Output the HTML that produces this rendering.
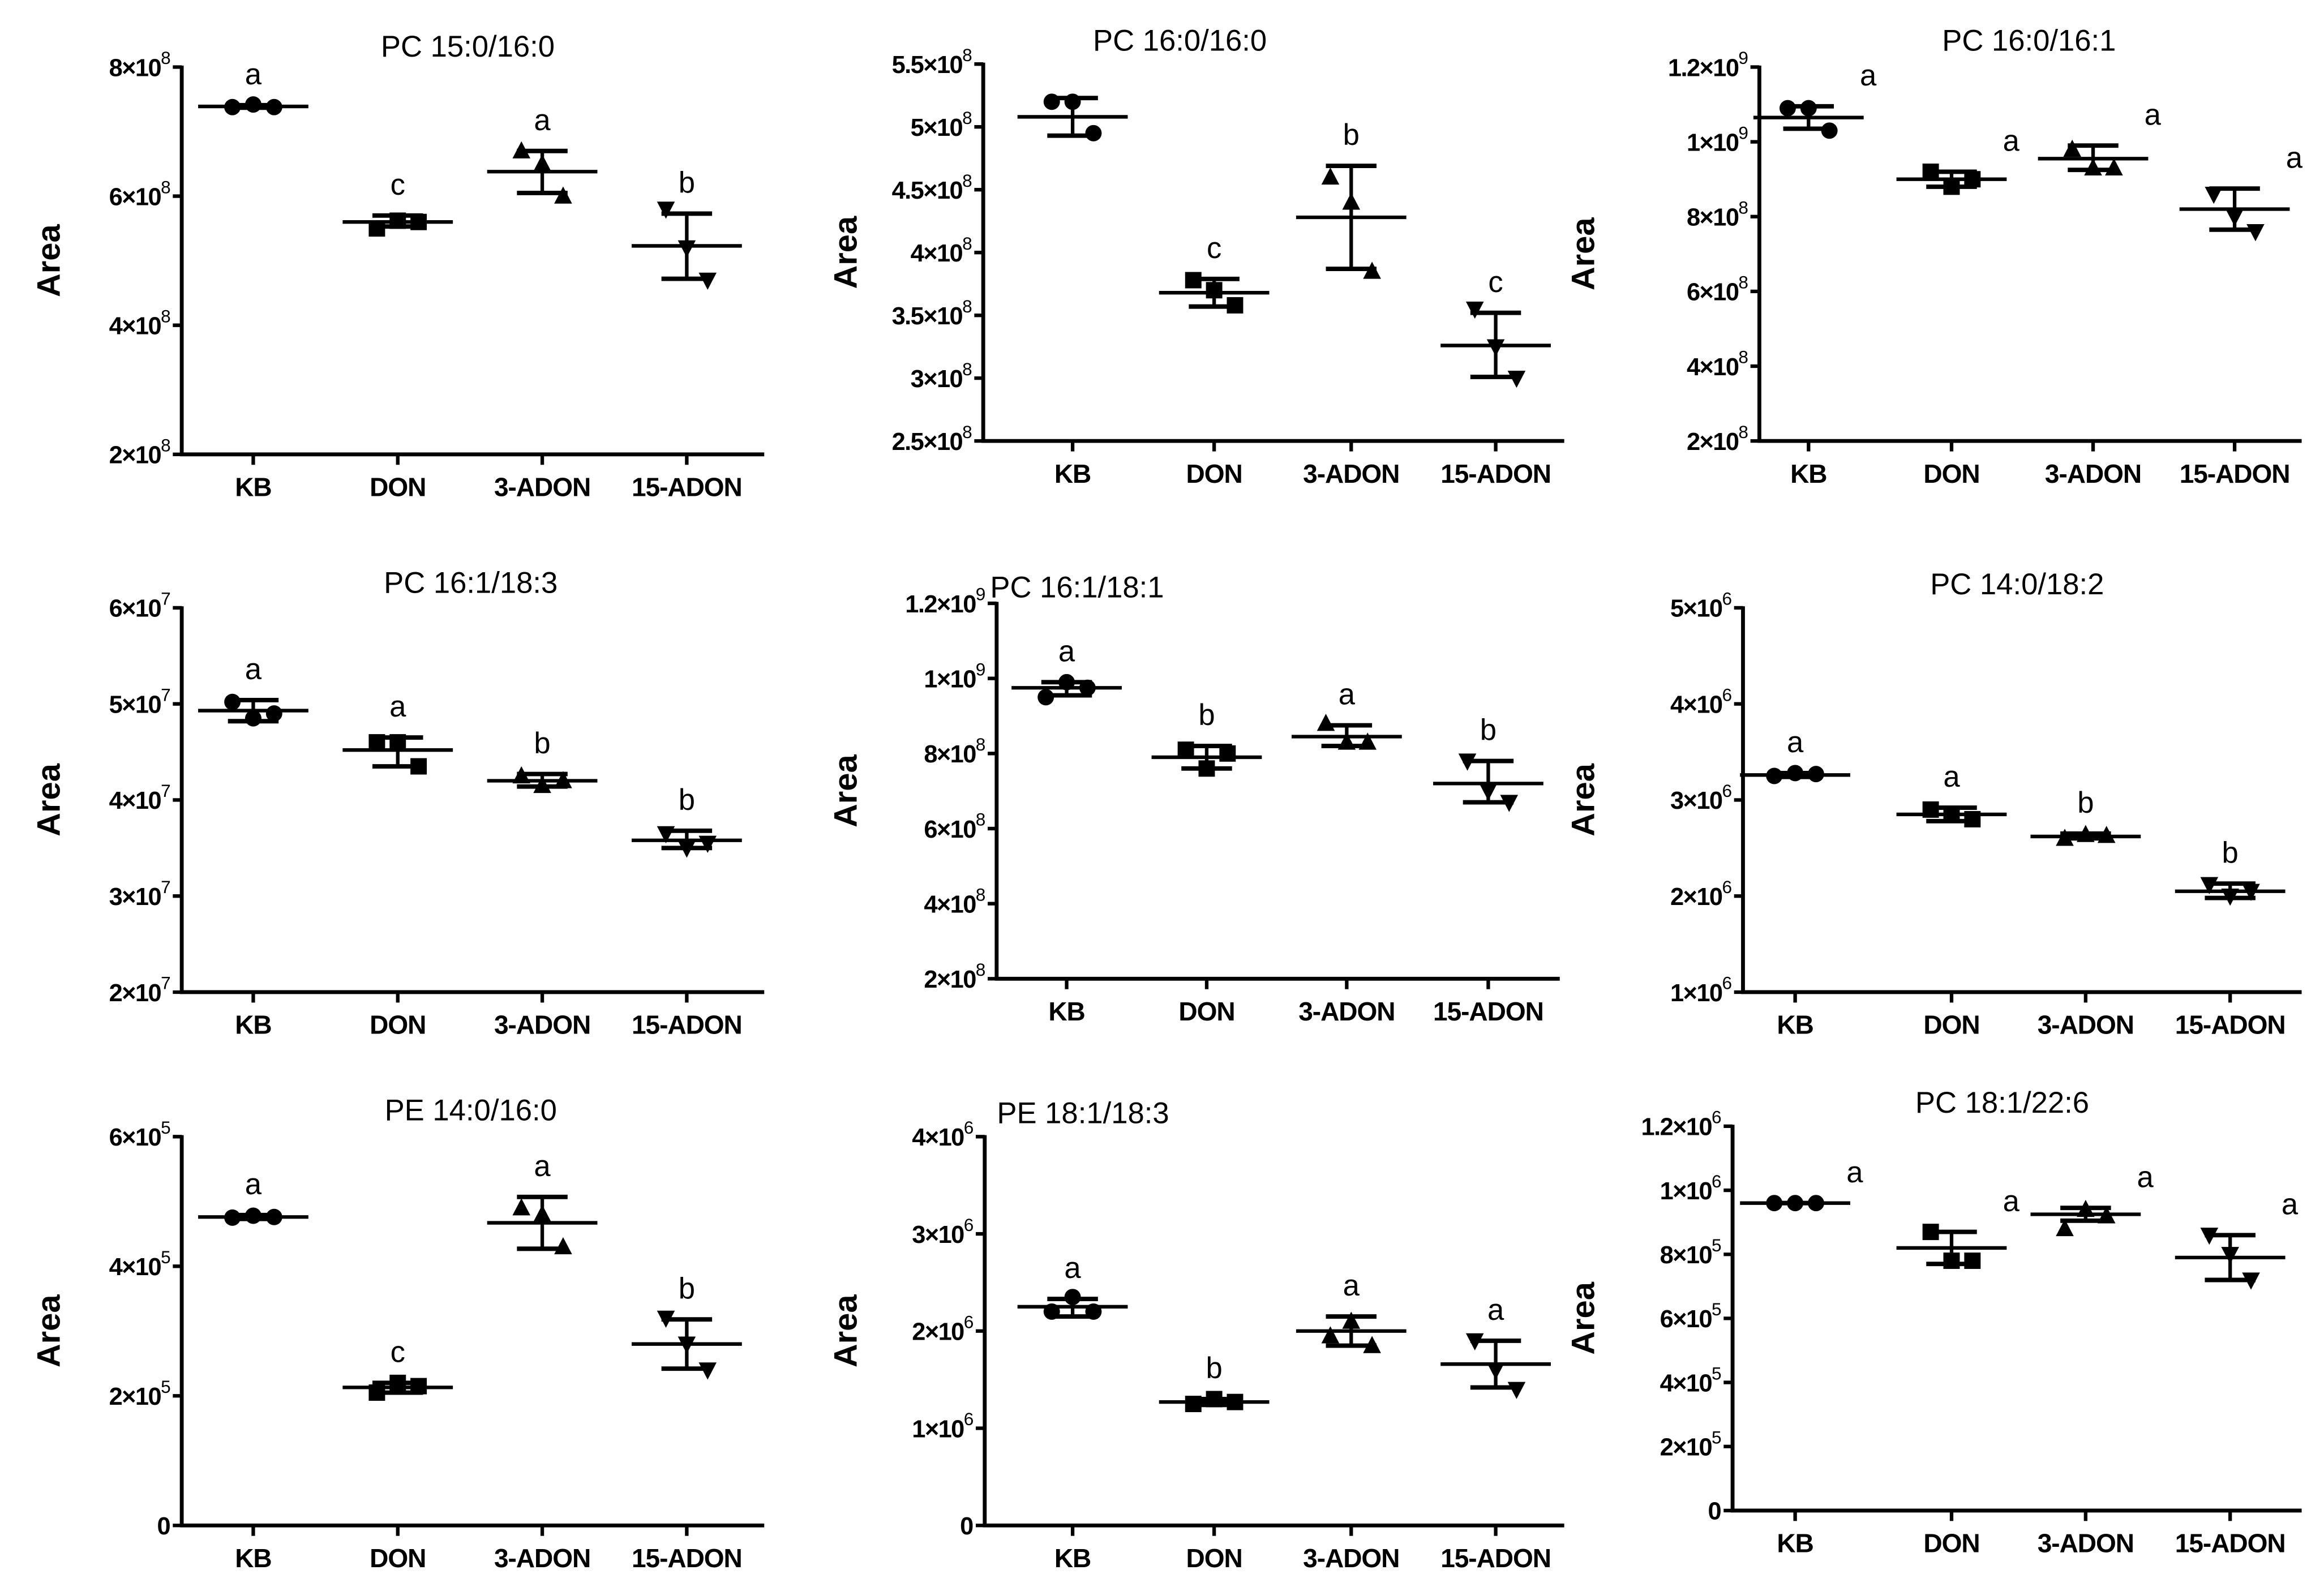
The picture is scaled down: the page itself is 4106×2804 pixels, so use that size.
<!DOCTYPE html>
<html><head><meta charset="utf-8">
<style>
html,body{margin:0;padding:0;background:#fff;}
svg{display:block;}
text{font-family:"Liberation Sans",Arial,sans-serif;fill:#000;}
</style></head>
<body>
<svg id="fig" xmlns="http://www.w3.org/2000/svg" width="4106" height="2804" viewBox="0 0 1560 1065.3"></svg>
<script>
// ---- data (per panel) ----
const categories = ["KB","DON","3-ADON","15-ADON"];
const titles = ["PC 15:0/16:0","PC 16:0/16:0","PC 16:0/16:1","PC 16:1/18:3","PC 16:1/18:1","PC 14:0/18:2","PE 14:0/16:0","PE 18:1/18:3","PC 18:1/22:6"];
const scaleUnits = [1e8,1e8,1e9,1e7,1e9,1e6,1e5,1e6,1e6];
const tickValues = [[2,4,6,8],[2.5,3,3.5,4,4.5,5,5.5],[0.2,0.4,0.6,0.8,1,1.2],[2,3,4,5,6],[0.2,0.4,0.6,0.8,1,1.2],[1,2,3,4,5],[0,2,4,6],[0,1,2,3,4],[0,0.2,0.4,0.6,0.8,1,1.2]];
const tickLabels = [
 [["2","8"],["4","8"],["6","8"],["8","8"]],
 [["2.5","8"],["3","8"],["3.5","8"],["4","8"],["4.5","8"],["5","8"],["5.5","8"]],
 [["2","8"],["4","8"],["6","8"],["8","8"],["1","9"],["1.2","9"]],
 [["2","7"],["3","7"],["4","7"],["5","7"],["6","7"]],
 [["2","8"],["4","8"],["6","8"],["8","8"],["1","9"],["1.2","9"]],
 [["1","6"],["2","6"],["3","6"],["4","6"],["5","6"]],
 [["0",""],["2","5"],["4","5"],["6","5"]],
 [["0",""],["1","6"],["2","6"],["3","6"],["4","6"]],
 [["0",""],["2","5"],["4","5"],["6","5"],["8","5"],["1","6"],["1.2","6"]]
];
const pointsP = [
 [[7.38,7.42,7.38],[5.5,5.62,5.6],[6.7,6.5,6.0],[5.8,5.2,4.7]],
 [[5.2,5.2,4.95],[3.78,3.7,3.58],[4.6,4.4,3.85],[3.55,3.25,3.0]],
 [[1.09,1.09,1.03],[0.92,0.88,0.9],[0.98,0.93,0.93],[0.86,0.8,0.76]],
 [[5.02,4.85,4.9],[4.6,4.6,4.35],[4.25,4.15,4.2],[3.65,3.5,3.55]],
 [[0.95,0.99,0.975],[0.81,0.76,0.8],[0.88,0.83,0.83],[0.78,0.7,0.67]],
 [[3.25,3.28,3.27],[2.9,2.85,2.8],[2.6,2.64,2.63],[2.12,2.0,2.05]],
 [[4.75,4.78,4.76],[2.05,2.2,2.15],[4.9,4.8,4.3],[3.2,2.8,2.4]],
 [[2.2,2.35,2.2],[1.25,1.3,1.27],[1.95,2.1,1.85],[1.9,1.6,1.4]],
 [[0.96,0.96,0.96],[0.87,0.78,0.78],[0.88,0.94,0.92],[0.86,0.8,0.72]]
];
const means = [[7.39,5.6,6.38,5.23],[5.08,3.68,4.28,3.26],[1.065,0.9,0.955,0.82],[4.93,4.52,4.2,3.58],[0.975,0.79,0.845,0.72],[3.26,2.85,2.62,2.05],[4.76,2.13,4.67,2.8],[2.25,1.27,2.0,1.66],[0.96,0.82,0.925,0.79]];
const errLo = [[7.37,5.53,6.05,4.72],[4.93,3.57,3.87,3.01],[1.035,0.88,0.925,0.765],[4.82,4.35,4.14,3.5],[0.955,0.76,0.82,0.67],[3.24,2.78,2.6,1.98],[4.73,2.05,4.27,2.42],[2.15,1.24,1.85,1.42],[0.96,0.77,0.905,0.72]];
const errHi = [[7.41,5.7,6.7,5.73],[5.23,3.79,4.69,3.52],[1.095,0.92,0.99,0.875],[5.04,4.65,4.27,3.68],[0.99,0.82,0.875,0.78],[3.28,2.92,2.65,2.13],[4.79,2.2,5.07,3.18],[2.33,1.3,2.15,1.9],[0.96,0.87,0.945,0.86]];
const letters = [["a","c","a","b"],["","c","b","c"],["a","a","a","a"],["a","a","b","b"],["a","b","a","b"],["a","a","b","b"],["a","c","a","b"],["a","b","a","a"],["a","a","a","a"]];

// ---- layout (overview coordinates) ----
const layout = [
 {ax:122,top:45,bot:305,xend:513,cats:[170,267,364,461],title:[314,36],areaX:32,side:false},
 {ax:660,top:43,bot:296,xend:1050,cats:[720,815,907,1004],title:[792,32],areaX:567,side:false},
 {ax:1181,top:45,bot:296,xend:1545,cats:[1214,1310,1405,1500],title:[1362,32],areaX:1062,side:true},
 {ax:122,top:408,bot:666,xend:513,cats:[170,267,364,461],title:[316,396],areaX:32,side:false},
 {ax:669,top:405,bot:657,xend:1047,cats:[716,810,904,999],title:[723,399],areaX:567,side:false},
 {ax:1170,top:408,bot:666,xend:1545,cats:[1205,1310,1400,1497],title:[1354,397],areaX:1062,side:false},
 {ax:122,top:763,bot:1024,xend:513,cats:[170,267,364,461],title:[316,750],areaX:32,side:false},
 {ax:661,top:763,bot:1024,xend:1050,cats:[720,815,907,1004],title:[727,752],areaX:567,side:false},
 {ax:1163,top:756,bot:1014,xend:1545,cats:[1205,1310,1400,1497],title:[1344,745],areaX:1062,side:true}
];
const NS="http://www.w3.org/2000/svg";
const svg=document.getElementById('fig');
function mk(tag,attrs,parent){const e=document.createElementNS(NS,tag);for(const k in attrs)e.setAttribute(k,attrs[k]);parent.appendChild(e);return e;}

layout.forEach((L,p)=>{
  const g=mk('g',{},svg);
  
  
  const tv=tickValues[p];
  const vmin=tv[0],vmax=tv[tv.length-1];
  const y=v=>L.bot-(v-vmin)/(vmax-vmin)*(L.bot-L.top);
  const t=mk('text',{x:L.title[0],y:L.title[1]+2,'text-anchor':'middle','font-size':20},g);
  t.textContent=titles[p];
  
  
  const yl=mk('text',{x:L.areaX,y:(L.top+L.bot)/2,'text-anchor':'middle','font-size':22,'font-weight':'bold',transform:`rotate(-90 ${L.areaX} ${(L.top+L.bot)/2})`,dy:8},g);
  yl.textContent='Area';
  
  
  const ya=mk('line',{x1:L.ax,y1:L.top-1,x2:L.ax,y2:L.bot+1.2,stroke:'#000','stroke-width':2.6},g);
  
  
  const xa=mk('line',{x1:L.ax-1.2,y1:L.bot,x2:L.xend,y2:L.bot,stroke:'#000','stroke-width':2.6},g);
  
  
  tv.forEach((v,i)=>{
    const yy=y(v);
    mk('line',{x1:L.ax-6,y1:yy,x2:L.ax,y2:yy,stroke:'#000','stroke-width':2.4},g);
    const lab=tickLabels[p][i];
    const tx=mk('text',{x:L.ax-8,y:yy+6,'text-anchor':'end','font-size':16.5,'font-weight':'bold','letter-spacing':-0.6},g);
    
    
    if(lab[1]===''){tx.textContent=lab[0];}
    else{
      const a=mk('tspan',{},tx);a.textContent=lab[0]+'\u00d710';
      const b=mk('tspan',{'font-size':12,dy:-8,'font-weight':'normal'},tx);b.textContent=lab[1];
    }
  });
  categories.forEach((c,i)=>{
    const cx=L.cats[i];
    mk('line',{x1:cx,y1:L.bot,x2:cx,y2:L.bot+7,stroke:'#000','stroke-width':2.4},g);
    const ct=mk('text',{x:cx,y:L.bot+28,'text-anchor':'middle','font-size':17.5,'font-weight':'bold','letter-spacing':-0.4},g);
    ct.textContent=c;
    
    
    const offs=[-14,0,14];
    pointsP[p][i].forEach((v,k)=>{
      const px=cx+offs[k],py=y(v);let m;
      if(i===0)m=mk('circle',{cx:px,cy:py,r:5.5,fill:'#000'},g);
      else if(i===1)m=mk('rect',{x:px-5.5,y:py-5.5,width:11,height:11,fill:'#000'},g);
      else if(i===2)m=mk('polygon',{points:`${px},${py-6.5} ${px-6},${py+5} ${px+6},${py+5}`,fill:'#000'},g);
      else m=mk('polygon',{points:`${px},${py+6.5} ${px-6},${py-5} ${px+6},${py-5}`,fill:'#000'},g);
      
      
    });
    const ml=mk('line',{x1:cx-37,y1:y(means[p][i]),x2:cx+37,y2:y(means[p][i]),stroke:'#000','stroke-width':2.4},g);
    
    
    const eb=mk('line',{x1:cx,y1:y(errLo[p][i]),x2:cx,y2:y(errHi[p][i]),stroke:'#000','stroke-width':2.4},g);
    
    
    [errLo[p][i],errHi[p][i]].forEach(v=>mk('line',{x1:cx-17,y1:y(v),x2:cx+17,y2:y(v),stroke:'#000','stroke-width':3},g));
    if(letters[p][i]){
      const lx=L.side?cx+40:cx, ly=y(errHi[p][i])-14;
      const lt=mk('text',{x:lx,y:ly,'text-anchor':'middle','font-size':20},g);
      lt.textContent=letters[p][i];
      
      
    }
  });
});
</script>
</body></html>
